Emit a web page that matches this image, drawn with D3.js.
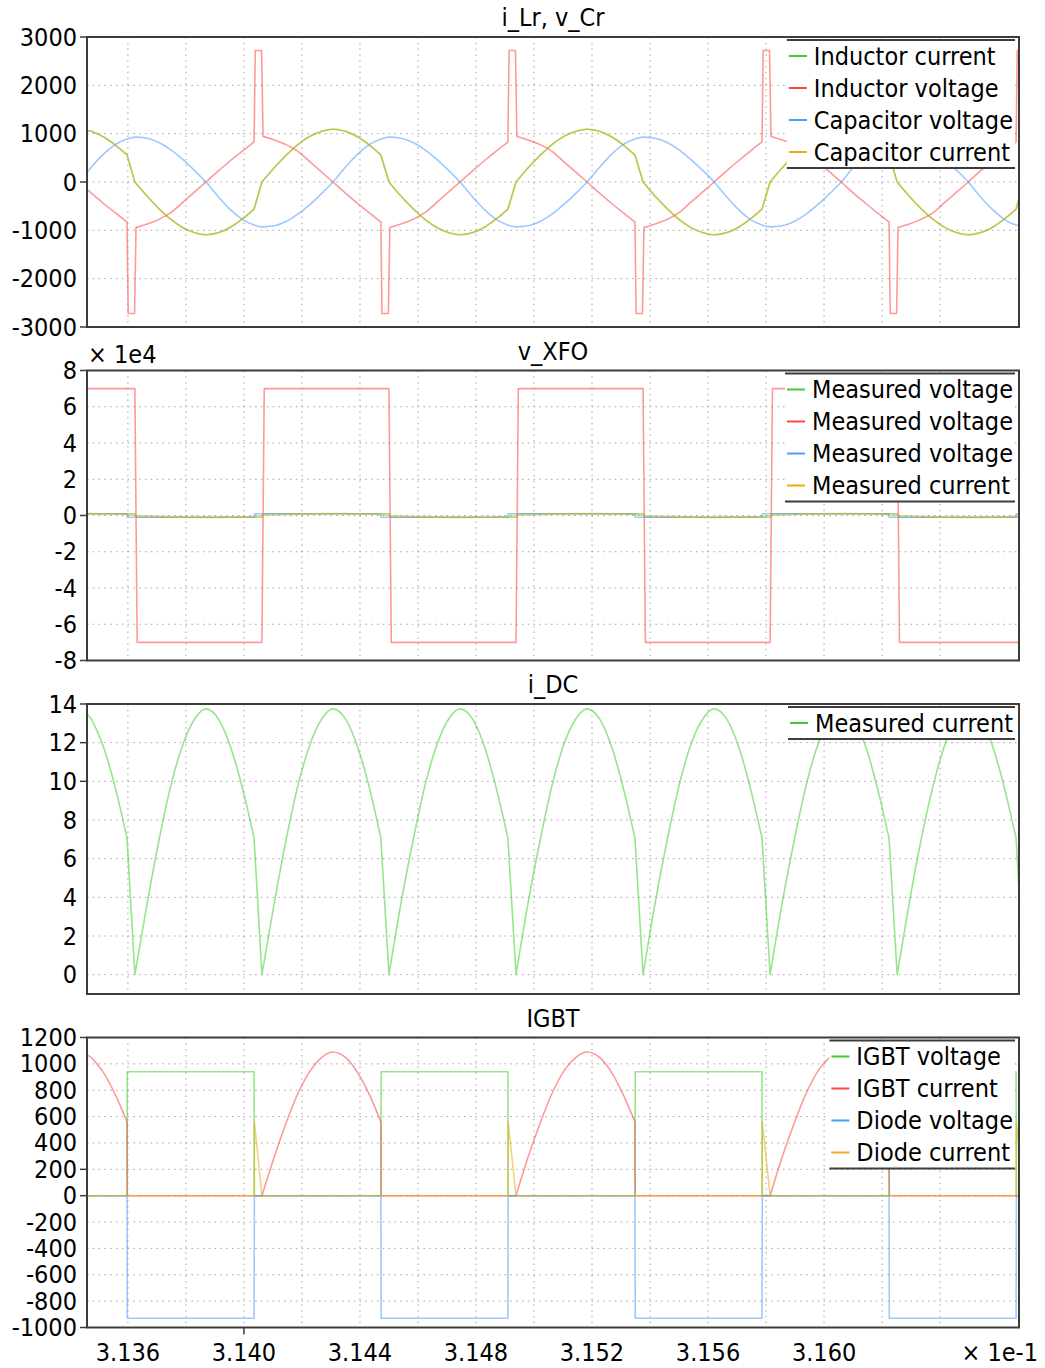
<!DOCTYPE html>
<html lang="en">
<head>
<meta charset="UTF-8">
<title>Resonant converter waveforms</title>
<style>
  body { margin: 0; background: #fff; }
  svg text { font-family: "DejaVu Sans Condensed", "DejaVu Sans", sans-serif; font-stretch: condensed; font-size: 25px; fill: #000; }
  .grid line { stroke: #a0a0a0; stroke-width: 1; stroke-dasharray: 1.5 4.3; }
  .frame { fill: none; stroke: #3c3c3c; stroke-width: 2; }
  .tick { stroke: #3c3c3c; stroke-width: 1.5; }
  .trace { fill: none; stroke-width: 1.6; stroke-opacity: 0.55; stroke-linejoin: round; stroke-linecap: round; }
</style>
</head>
<body>
<svg id="chart" width="1045" height="1368"></svg>
<script src="https://d3js.org/d3.v7.min.js"></script>
<script>
// time axis, in units of 1e-1 s
const xDomain = [3.13459, 3.16672];
const xTicks = [3.136, 3.140, 3.144, 3.148, 3.152, 3.156, 3.160];

// shared time base for the smooth resonant waveforms
const tSmooth = [
  3.13459, 3.13476, 3.13517, 3.13559,
  3.13597, 3.13624, 3.13666, 3.13707, 3.13748, 3.13790, 3.13831, 3.13869, 3.13914, 3.13955, 3.13997,
  3.14035, 3.14062, 3.14104, 3.14145, 3.14186, 3.14228, 3.14269, 3.14307, 3.14352, 3.14393, 3.14435,
  3.14472, 3.14500, 3.14541, 3.14583, 3.14624, 3.14666, 3.14707, 3.14745, 3.14790, 3.14831, 3.14872,
  3.14910, 3.14938, 3.14979, 3.15021, 3.15062, 3.15103, 3.15145, 3.15183, 3.15228, 3.15269, 3.15310,
  3.15348, 3.15376, 3.15417, 3.15459, 3.15500, 3.15541, 3.15583, 3.15621, 3.15666, 3.15707, 3.15748,
  3.15786, 3.15814, 3.15855, 3.15897, 3.15938, 3.15979, 3.16021, 3.16059, 3.16103, 3.16145, 3.16186,
  3.16224, 3.16252, 3.16293, 3.16334, 3.16376, 3.16417, 3.16459, 3.16497, 3.16541, 3.16583, 3.16624,
  3.16662, 3.16672
];

// i_Lr (inductor current = capacitor current)
const iLr = [
  1068, 1045, 930, 755,
  560, 0, -290, -550, -775, -945, -1050, -1090, -1045, -930, -755,
  -560, 0, 290, 550, 775, 945, 1050, 1090, 1045, 930, 755,
  560, 0, -290, -550, -775, -945, -1050, -1090, -1045, -930, -755,
  -560, 0, 290, 550, 775, 945, 1050, 1090, 1045, 930, 755,
  560, 0, -290, -550, -775, -945, -1050, -1090, -1045, -930, -755,
  -560, 0, 290, 550, 775, 945, 1050, 1090, 1045, 930, 755,
  560, 0, -290, -550, -775, -945, -1050, -1090, -1045, -930, -755,
  -560, -350
];

// v_Cr (capacitor voltage)
const vCr = [
  200, 321, 583, 783,
  890, 928, 906, 816, 666, 465, 230, 0, -321, -583, -783,
  -890, -928, -906, -816, -666, -465, -230, 0, 321, 583, 783,
  890, 928, 906, 816, 666, 465, 230, 0, -321, -583, -783,
  -890, -928, -906, -816, -666, -465, -230, 0, 321, 583, 783,
  890, 928, 906, 816, 666, 465, 230, 0, -321, -583, -783,
  -890, -928, -906, -816, -666, -465, -230, 0, 321, 583, 783,
  890, 928, 906, 816, 666, 465, 230, 0, -321, -583, -783,
  -890, -905
];

// inductor voltage has the dead-time spikes, so it gets its own time base
const tLr = [
  3.13459, 3.13476, 3.13517, 3.13559,
  3.13597, 3.13601, 3.13623, 3.13628, 3.13666, 3.13707, 3.13748, 3.13790, 3.13831, 3.13869, 3.13914, 3.13955, 3.13997,
  3.14035, 3.14039, 3.14061, 3.14066, 3.14104, 3.14145, 3.14186, 3.14228, 3.14269, 3.14307, 3.14352, 3.14393, 3.14435,
  3.14472, 3.14476, 3.14498, 3.14503, 3.14541, 3.14583, 3.14624, 3.14666, 3.14707, 3.14745, 3.14790, 3.14831, 3.14872,
  3.14910, 3.14914, 3.14936, 3.14941, 3.14979, 3.15021, 3.15062, 3.15103, 3.15145, 3.15183, 3.15228, 3.15269, 3.15310,
  3.15348, 3.15352, 3.15374, 3.15379, 3.15417, 3.15459, 3.15500, 3.15541, 3.15583, 3.15621, 3.15666, 3.15707, 3.15748,
  3.15786, 3.15790, 3.15812, 3.15817, 3.15855, 3.15897, 3.15938, 3.15979, 3.16021, 3.16059, 3.16103, 3.16145, 3.16186,
  3.16224, 3.16228, 3.16250, 3.16255, 3.16293, 3.16334, 3.16376, 3.16417, 3.16459, 3.16497, 3.16541, 3.16583, 3.16624,
  3.16662, 3.16666, 3.16672
];
const vLr = [
  -150, -240, -450, -650,
  -828, -2720, -2720, -944, -870, -773, -635, -417, -200, 0, 240, 450, 650,
  828, 2720, 2720, 944, 870, 773, 635, 417, 200, 0, -240, -450, -650,
  -828, -2720, -2720, -944, -870, -773, -635, -417, -200, 0, 240, 450, 650,
  828, 2720, 2720, 944, 870, 773, 635, 417, 200, 0, -240, -450, -650,
  -828, -2720, -2720, -944, -870, -773, -635, -417, -200, 0, 240, 450, 650,
  828, 2720, 2720, 944, 870, 773, 635, 417, 200, 0, -240, -450, -650,
  -828, -2720, -2720, -944, -870, -773, -635, -417, -200, 0, 240, 450, 650,
  828, 2720, 2720
];

// v_XFO: transformer voltages (V) and current
const tXfo = [3.13459, 3.13624, 3.13632, 3.14062, 3.14070, 3.14500, 3.14508, 3.14938,
              3.14946, 3.15376, 3.15384, 3.15814, 3.15822, 3.16252, 3.16260, 3.16672];
const vXfoA = [1000, 1000, -1000, -1000, 1000, 1000, -1000, -1000,
               1000, 1000, -1000, -1000, 1000, 1000, -1000, -1000];
const vXfoB = [70000, 70000, -70000, -70000, 70000, 70000, -70000, -70000,
               70000, 70000, -70000, -70000, 70000, 70000, -70000, -70000];
const tSw = [3.13459, 3.13597, 3.13598, 3.14035, 3.14036, 3.14472, 3.14473, 3.14910, 3.14911,
             3.15348, 3.15349, 3.15786, 3.15787, 3.16224, 3.16225, 3.16662, 3.16663, 3.16672];
const vXfoC = [1000, 1000, -1000, -1000, 1000, 1000, -1000, -1000, 1000,
               1000, -1000, -1000, 1000, 1000, -1000, -1000, 1000, 1000];

// i_DC
const iDC = [
  13.5, 13.18, 11.73, 9.52,
  7.06, 0, 3.66, 6.94, 9.78, 11.92, 13.25, 13.75, 13.18, 11.73, 9.52,
  7.06, 0, 3.66, 6.94, 9.78, 11.92, 13.25, 13.75, 13.18, 11.73, 9.52,
  7.06, 0, 3.66, 6.94, 9.78, 11.92, 13.25, 13.75, 13.18, 11.73, 9.52,
  7.06, 0, 3.66, 6.94, 9.78, 11.92, 13.25, 13.75, 13.18, 11.73, 9.52,
  7.06, 0, 3.66, 6.94, 9.78, 11.92, 13.25, 13.75, 13.18, 11.73, 9.52,
  7.06, 0, 3.66, 6.94, 9.78, 11.92, 13.25, 13.75, 13.18, 11.73, 9.52,
  7.06, 0, 3.66, 6.94, 9.78, 11.92, 13.25, 13.75, 13.18, 11.73, 9.52,
  7.06, 4.4
];

// IGBT / diode
const igbtV = [0, 0, 940, 940, 0, 0, 940, 940, 0, 0, 940, 940, 0, 0, 940, 940, 0, 0];
const diodeV = [0, 0, -930, -930, 0, 0, -930, -930, 0, 0, -930, -930, 0, 0, -930, -930, 0, 0];
const tIgbtI = [
  3.13459, 3.13476, 3.13517, 3.13559, 3.13597, 3.13598,
  3.14062, 3.14104, 3.14145, 3.14186, 3.14228, 3.14269, 3.14307, 3.14352, 3.14393, 3.14435, 3.14472, 3.14473,
  3.14938, 3.14979, 3.15021, 3.15062, 3.15103, 3.15145, 3.15183, 3.15228, 3.15269, 3.15310, 3.15348, 3.15349,
  3.15814, 3.15855, 3.15897, 3.15938, 3.15979, 3.16021, 3.16059, 3.16103, 3.16145, 3.16186, 3.16224, 3.16225,
  3.16672
];
const igbtI = [
  1068, 1045, 930, 755, 560, 0,
  0, 290, 550, 775, 945, 1050, 1090, 1045, 930, 755, 560, 0,
  0, 290, 550, 775, 945, 1050, 1090, 1045, 930, 755, 560, 0,
  0, 290, 550, 775, 945, 1050, 1090, 1045, 930, 755, 560, 0,
  0
];
const tDiodeI = [3.13459, 3.14035, 3.14036, 3.14062, 3.14910, 3.14911, 3.14938,
                 3.15786, 3.15787, 3.15814, 3.16662, 3.16663, 3.16672];
const diodeI = [0, 0, 560, 0, 0, 560, 0, 0, 560, 0, 0, 560, 350];

// axis ticks (labels) and the few places where a tick mark is drawn
const p1Ticks = [-3000, -2000, -1000, 0, 1000, 2000, 3000];
const p2Ticks = [-8, -6, -4, -2, 0, 2, 4, 6, 8];
const p3Ticks = [0, 2, 4, 6, 8, 10, 12, 14];
const p4Ticks = [-1000, -800, -600, -400, -200, 0, 200, 400, 600, 800, 1000, 1200];
const p1Marks = [-3000, 0, 3000];
const p2Marks = [-8, 0, 8];
const p3Marks = [10, 12, 14];
const p4Marks = [-1000, 0, 200, 1200];
const xMarks = [3.140];

// legend labels
const p1Names = ["Inductor current", "Inductor voltage", "Capacitor voltage", "Capacitor current"];
const p2Names = ["Measured voltage", "Measured voltage", "Measured voltage", "Measured current"];
const p3Names = ["Measured current"];
const p4Names = ["IGBT voltage", "IGBT current", "Diode voltage", "Diode current"];

const C = { green: "#3fcf2e", red: "#ff4646", blue: "#4a9cff", yellow: "#e6ad18" };

const svg = d3.select("#chart");
const plotL = 87, plotR = 1019, plotH = 290;
const x = d3.scaleLinear().domain(xDomain).range([plotL, plotR]);

const panels = [
  { title: "i_Lr, v_Cr", top: 37, domain: [-3000, 3000], ticks: p1Ticks, marks: p1Marks,
    fmt: d => String(d), names: p1Names,
    series: [
      { t: tSmooth, v: iLr, color: C.green },
      { t: tLr, v: vLr, color: C.red },
      { t: tSmooth, v: vCr, color: C.blue, smoothAll: true },
      { t: tSmooth, v: iLr, color: C.yellow }
    ] },
  { title: "v_XFO", top: 370.5, domain: [-80000, 80000], ticks: p2Ticks.map(d => d * 1e4),
    marks: p2Marks.map(d => d * 1e4),
    fmt: d => String(d / 1e4), exponent: "\u00d7 1e4", names: p2Names,
    series: [
      { t: tXfo, v: vXfoA, color: C.green },
      { t: tXfo, v: vXfoB, color: C.red },
      { t: tSw, v: vXfoC, color: C.blue },
      { t: tSmooth, v: iLr, color: C.yellow }
    ] },
  { title: "i_DC", top: 704, domain: [-1, 14], ticks: p3Ticks, marks: p3Marks,
    fmt: d => String(d), names: p3Names,
    series: [ { t: tSmooth, v: iDC, color: C.green } ] },
  { title: "IGBT", top: 1037.5, domain: [-1000, 1200], ticks: p4Ticks, marks: p4Marks,
    fmt: d => String(d), names: p4Names, xAxis: true,
    series: [
      { t: tSw, v: igbtV, color: C.green },
      { t: tIgbtI, v: igbtI, color: C.red },
      { t: tSw, v: diodeV, color: C.blue },
      { t: tDiodeI, v: diodeI, color: C.yellow }
    ] }
];

// split a trace into straight pieces (switching edges, flat parts) and smooth runs
function tracePath(s, y) {
  const pts = s.t.map((t, i) => [x(t), y(s.v[i])]);
  if (s.smoothAll) return d3.line().curve(d3.curveMonotoneX)(pts);
  const runs = [];
  for (let i = 0; i < pts.length - 1; i++) {
    const straight = (s.t[i + 1] - s.t[i] < 0.0003) || s.v[i + 1] === s.v[i];
    const last = runs[runs.length - 1];
    if (last && last.straight === straight) last.end = i + 1;
    else runs.push({ straight, start: i, end: i + 1 });
  }
  return runs.map((r, k) => {
    const line = d3.line().curve(r.straight ? d3.curveLinear : d3.curveMonotoneX);
    const d = line(pts.slice(r.start, r.end + 1));
    return k === 0 ? d : d.replace(/^M/, "L");
  }).join("");
}

panels.forEach((p, pi) => {
  const y = d3.scaleLinear().domain(p.domain).range([p.top + plotH, p.top]);
  const g = svg.append("g");

  const clipId = "clip" + pi;
  g.append("clipPath").attr("id", clipId)
    .append("rect").attr("x", plotL).attr("y", p.top).attr("width", plotR - plotL).attr("height", plotH);

  // dotted grid
  const grid = g.append("g").attr("class", "grid");
  grid.selectAll(".gx").data(d3.range(3.136, 3.1655, 0.002)).enter().append("line")
    .attr("x1", d => x(d)).attr("x2", d => x(d))
    .attr("y1", p.top).attr("y2", p.top + plotH);
  grid.selectAll(".gy").data(p.ticks.filter(d => d > p.domain[0] && d < p.domain[1])).enter().append("line")
    .attr("x1", plotL).attr("x2", plotR)
    .attr("y1", d => y(d)).attr("y2", d => y(d));

  // traces
  const traces = g.append("g").attr("clip-path", `url(#${clipId})`);
  p.series.forEach(s => {
    traces.append("path").attr("class", "trace")
      .attr("stroke", s.color)
      .attr("d", tracePath(s, y));
  });

  // legend
  const lg = g.append("g");
  const texts = p.names.map((n, i) => lg.append("text")
    .attr("y", p.top + 3 + 16 + 32 * i)
    .attr("dominant-baseline", "central")
    .text(n));
  const maxW = d3.max(texts, t => t.node().getComputedTextLength());
  const lgRight = plotR - 4, lgTop = p.top + 3, lgH = 32 * p.names.length;
  const lgLeft = lgRight - 2 - maxW - 27;
  lg.insert("rect", ":first-child")
    .attr("x", lgLeft).attr("y", lgTop).attr("width", lgRight - lgLeft).attr("height", lgH)
    .attr("fill", "#fff");
  texts.forEach(t => t.attr("x", lgLeft + 27));
  p.series.forEach((s, i) => {
    lg.append("line")
      .attr("x1", lgLeft + 2).attr("x2", lgLeft + 20)
      .attr("y1", lgTop + 16 + 32 * i).attr("y2", lgTop + 16 + 32 * i)
      .attr("stroke", s.color).attr("stroke-width", 2);
  });
  [lgTop, lgTop + lgH].forEach(yy => {
    lg.append("line").attr("x1", lgLeft).attr("x2", lgRight)
      .attr("y1", yy).attr("y2", yy)
      .attr("stroke", "#3c3c3c").attr("stroke-width", 2);
  });

  // frame
  g.append("rect").attr("class", "frame")
    .attr("x", plotL).attr("y", p.top).attr("width", plotR - plotL).attr("height", plotH);

  // y axis tick marks and labels
  g.selectAll(".yt").data(p.marks).enter().append("line").attr("class", "tick")
    .attr("x1", plotL - 7).attr("x2", plotL)
    .attr("y1", d => y(d)).attr("y2", d => y(d));
  g.selectAll(".yl").data(p.ticks).enter().append("text")
    .attr("x", plotL - 10).attr("y", d => y(d))
    .attr("text-anchor", "end").attr("dominant-baseline", "central")
    .text(p.fmt);

  // title
  g.append("text").attr("x", (plotL + plotR) / 2).attr("y", p.top - 11)
    .attr("text-anchor", "middle").text(p.title);

  if (p.exponent) {
    g.append("text").attr("x", plotL + 1).attr("y", p.top - 8).text(p.exponent);
  }

  if (p.xAxis) {
    const by = p.top + plotH;
    g.selectAll(".xt").data(xMarks).enter().append("line").attr("class", "tick")
      .attr("x1", d => x(d)).attr("x2", d => x(d))
      .attr("y1", by).attr("y2", by + 7);
    g.selectAll(".xl").data(xTicks).enter().append("text")
      .attr("x", d => x(d)).attr("y", by + 33)
      .attr("text-anchor", "middle")
      .text(d => d.toFixed(3));
    g.append("text").attr("x", 1038).attr("y", by + 33)
      .attr("text-anchor", "end").text("\u00d7 1e-1");
  }
});
</script>
</body>
</html>
